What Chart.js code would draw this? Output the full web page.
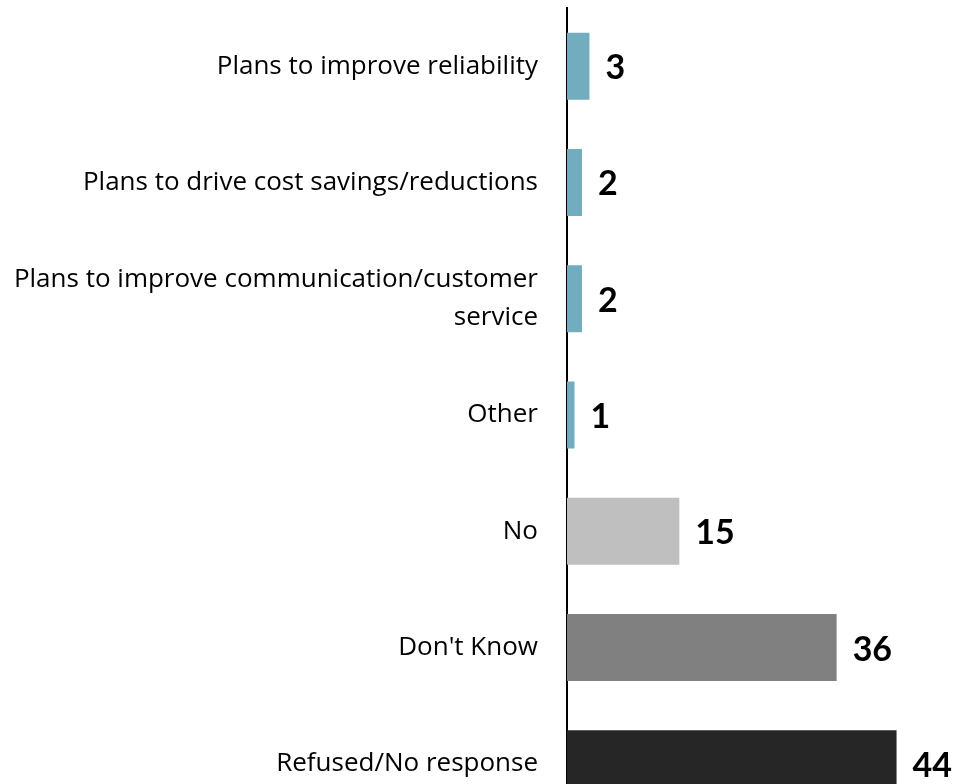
<!DOCTYPE html>
<html>
<head>
<meta charset="utf-8">
<script src="https://cdn.jsdelivr.net/npm/chart.js@4"></script>
<style>
  html, body { margin: 0; padding: 0; background: #fff; overflow: hidden; }
</style>
</head>
<body>
<canvas id="chart" width="953" height="830"></canvas>
<script>
// Survey answers, top to bottom
const categories = [
    'Plans to improve reliability',
    'Plans to drive cost savings/reductions',
    ['Plans to improve communication/customer', 'service'],
    'Other',
    'No',
    "Don't Know",
    'Refused/No response'
];
const values = [3, 2, 2, 1, 15, 36, 44];
const barColors = ['#71acbf', '#71acbf', '#71acbf', '#71acbf', '#bfbfbf', '#808080', '#262626'];

// Draw the value next to each bar
const valueLabels = {
    id: 'valueLabels',
    afterDatasetsDraw(chart) {
        const ctx = chart.ctx;
        const meta = chart.getDatasetMeta(0);
        ctx.save();
        ctx.font = 'bold 34px Lato';
        ctx.fillStyle = '#000';
        ctx.textAlign = 'left';
        ctx.textBaseline = 'middle';
        meta.data.forEach((bar, i) => {
            ctx.fillText(values[i], bar.x + 16, bar.y + 2);
        });
        ctx.restore();
    }
};

const ctx = document.getElementById('chart').getContext('2d');
new Chart(ctx, {
    type: 'bar',
    data: {
        labels: categories,
        datasets: [{
            data: values,
            backgroundColor: barColors,
            categoryPercentage: 1,
            barPercentage: 0.576
        }]
    },
    options: {
        indexAxis: 'y',
        responsive: false,
        animation: false,
        devicePixelRatio: 1,
        layout: { padding: { top: 8, bottom: 8, right: 11.5, left: 0 } },
        plugins: {
            legend: { display: false },
            tooltip: { enabled: false }
        },
        scales: {
            x: {
                display: false,
                min: 0,
                max: 50
            },
            y: {
                afterFit(scale) {
                    scale.width = 567;
                    scale.paddingTop = 0;
                    scale.paddingBottom = 0;
                },
                grid: { display: false, drawTicks: false },
                border: { display: true, color: '#000', width: 2 },
                ticks: {
                    padding: 29,
                    color: '#000',
                    font: { family: 'Open Sans', size: 26, lineHeight: 1.46 }
                }
            }
        }
    },
    plugins: [valueLabels]
});
</script>
</body>
</html>
